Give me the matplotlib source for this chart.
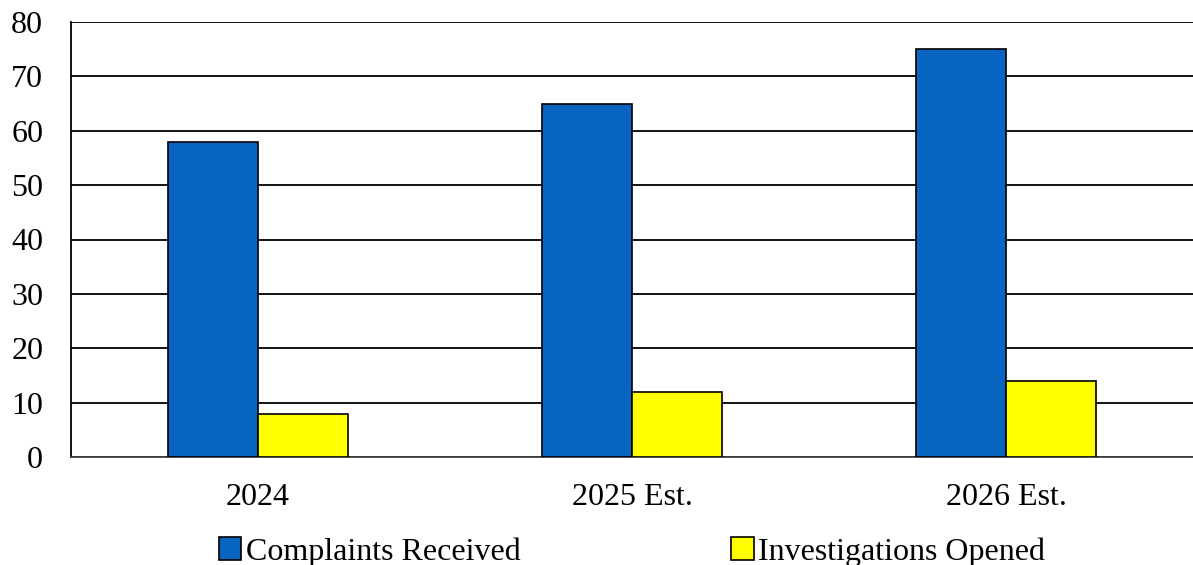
import numpy as np
import matplotlib.pyplot as plt

plt.rcParams['font.family'] = ['Liberation Serif', 'DejaVu Serif']

categories = ["2024", "2025 Est.", "2026 Est."]
complaints = [58, 65, 75]
investigations = [8, 12, 14]
series_names = ["Complaints Received", "Investigations Opened"]

fig = plt.figure(figsize=(11.93, 5.65), dpi=100)
ax = fig.add_axes([71 / 1193, 1 - 457 / 565, 1122 / 1193, 435 / 565])

x = np.arange(len(categories))
w = 0.24
ax.bar(x - w / 2, complaints, w, color="#0865C2", edgecolor="black", linewidth=1.2,
       label=series_names[0], zorder=3)
ax.bar(x + w / 2, investigations, w, color="#FFFF00", edgecolor="black", linewidth=1.2,
       label=series_names[1], zorder=3)

ax.set_xlim(-0.5, 2.5)
ax.set_ylim(0, 80)
ax.set_yticks(range(0, 81, 10))
ax.set_xticks(x)
ax.set_xticklabels(categories)
ax.yaxis.grid(True, color="black", linewidth=1.3, zorder=0)
ax.set_axisbelow(True)
ax.tick_params(length=0, labelsize=23)
ax.tick_params(axis="y", pad=20)
ax.tick_params(axis="x", pad=19)

for s in ["top", "right"]:
    ax.spines[s].set_visible(False)
ax.spines["left"].set_color("black")
ax.spines["left"].set_linewidth(1.3)
ax.spines["bottom"].set_color("#404040")
ax.spines["bottom"].set_linewidth(1.3)

ax.legend(loc="center", bbox_to_anchor=(0.5, -0.218), ncol=2, frameon=False,
          fontsize=23, handlelength=0.7, handleheight=0.7, handletextpad=0.15,
          columnspacing=6.6)

fig.savefig("out.png", dpi=100)
